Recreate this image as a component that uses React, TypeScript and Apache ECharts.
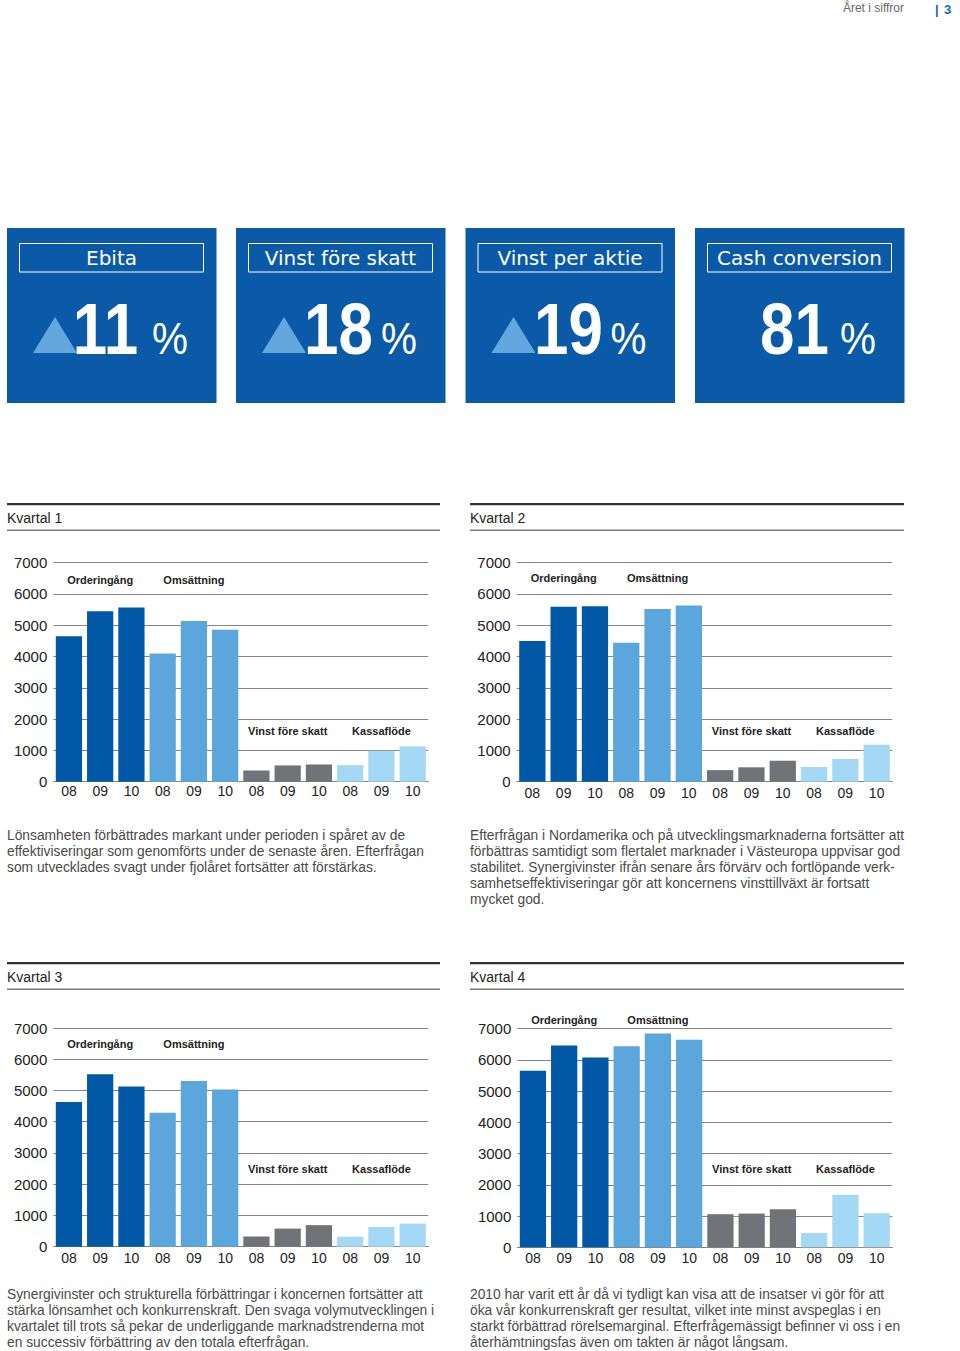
import React, { useEffect, useRef } from 'react';
import * as echarts from 'echarts';

// ---------- data ----------
const years = ['08', '09', '10'];
const groups = ['Orderingång', 'Omsättning', 'Vinst före skatt', 'Kassaflöde'];
const yMin = 0;
const yMax = 7000;
const yStep = 1000;

const kpiTitles = ['Ebita', 'Vinst före skatt', 'Vinst per aktie', 'Cash conversion'];
const kpiValues = ['11', '18', '19', '81'];
const kpiUp = [true, true, true, false];

const quarterTitles = ['Kvartal 1', 'Kvartal 2', 'Kvartal 3', 'Kvartal 4'];

const q1Order = [4650, 5450, 5570];
const q1Sales = [4100, 5140, 4860];
const q1Profit = [360, 520, 550];
const q1Cash = [530, 990, 1130];

const q2Order = [4500, 5590, 5610];
const q2Sales = [4440, 5520, 5630];
const q2Profit = [370, 460, 670];
const q2Cash = [470, 730, 1180];

const q3Order = [4630, 5520, 5130];
const q3Sales = [4290, 5300, 5030];
const q3Profit = [330, 580, 690];
const q3Cash = [320, 630, 740];

const q4Order = [5650, 6460, 6080];
const q4Sales = [6440, 6850, 6650];
const q4Profit = [1060, 1080, 1220];
const q4Cash = [460, 1680, 1090];

const p1 = [
  'Lönsamheten förbättrades markant under perioden i spåret av de',
  'effektiviseringar som genomförts under de senaste åren. Efterfrågan',
  'som utvecklades svagt under fjolåret fortsätter att förstärkas.',
];
const p2 = [
  'Efterfrågan i Nordamerika och på utvecklingsmarknaderna fortsätter att',
  'förbättras samtidigt som flertalet marknader i Västeuropa uppvisar god',
  'stabilitet. Synergivinster ifrån senare års förvärv och fortlöpande verk-',
  'samhetseffektiviseringar gör att koncernens vinsttillväxt är fortsatt',
  'mycket god.',
];
const p3 = [
  'Synergivinster och strukturella förbättringar i koncernen fortsätter att',
  'stärka lönsamhet och konkurrenskraft. Den svaga volymutvecklingen i',
  'kvartalet till trots så pekar de underliggande marknadstrenderna mot',
  'en successiv förbättring av den totala efterfrågan.',
];
const p4 = [
  '2010 har varit ett år då vi tydligt kan visa att de insatser vi gör för att',
  'öka vår konkurrenskraft ger resultat, vilket inte minst avspeglas i en',
  'starkt förbättrad rörelsemarginal. Efterfrågemässigt befinner vi oss i en',
  'återhämtningsfas även om takten är något långsam.',
];

// ---------- styling / layout ----------
const FONT = '"Liberation Sans", Arial, Helvetica, sans-serif';
const groupColors = ['#0058a7', '#5aa6dd', '#727378', '#a3d9f5'];
const boxColor = '#0b5aa8';
const triColor = '#62a8de';

const quarters = [
  { order: q1Order, sales: q1Sales, profit: q1Profit, cash: q1Cash },
  { order: q2Order, sales: q2Sales, profit: q2Profit, cash: q2Cash },
  { order: q3Order, sales: q3Sales, profit: q3Profit, cash: q3Cash },
  { order: q4Order, sales: q4Sales, profit: q4Profit, cash: q4Cash },
];

const gridBoxes = [
  { left: 53.3, top: 562.7, width: 375, height: 219, labelMargin: 2 },
  { left: 516.7, top: 562.7, width: 375.6, height: 219, labelMargin: 4 },
  { left: 53.3, top: 1028, width: 375, height: 218.7, labelMargin: 4 },
  { left: 517.3, top: 1028.7, width: 375, height: 218.6, labelMargin: 4 },
];
// pixel rows for the group name annotations (top pair, bottom pair)
const nameRows = [
  [580, 731],
  [578, 731],
  [1044, 1169],
  [1020, 1169],
];
const sections = [
  { x: 7, w: 433, top: 503 },
  { x: 470, w: 434, top: 503 },
  { x: 7, w: 433, top: 962 },
  { x: 470, w: 434, top: 962 },
];
const boxesX = [7, 236, 465.5, 695];
const digitCenter = [105.5, 338.5, 568.5, 794.5];

export default function App() {
  const ref = useRef<HTMLDivElement>(null);

  useEffect(() => {
    document.body.style.margin = '0';
    if (!ref.current) return;
    const chart = echarts.init(ref.current, null, { renderer: 'svg' });

    const categories: string[] = [];
    groups.forEach((g) => years.forEach((y) => categories.push(g + '|' + y)));

    const grid: any[] = [];
    const xAxis: any[] = [];
    const yAxis: any[] = [];
    const series: any[] = [];
    const graphic: any[] = [];

    quarters.forEach((q, qi) => {
      const gb = gridBoxes[qi];
      grid.push({ left: gb.left, top: gb.top, width: gb.width, height: gb.height, containLabel: false });
      xAxis.push({
        type: 'category',
        gridIndex: qi,
        data: categories,
        axisLine: { show: true, lineStyle: { color: '#858585', width: 1 } },
        axisTick: { show: false },
        axisLabel: {
          margin: gb.labelMargin,
          fontSize: 14,
          color: '#222',
          fontFamily: FONT,
          interval: 0,
          formatter: (v: string) => v.split('|')[1],
        },
      });
      yAxis.push({
        type: 'value',
        gridIndex: qi,
        min: yMin,
        max: yMax,
        interval: yStep,
        axisLine: { show: false },
        axisTick: { show: false },
        axisLabel: {
          margin: 6,
          fontSize: 15,
          color: '#222',
          fontFamily: FONT,
          formatter: (v: number) => String(v),
        },
        splitLine: { show: true, lineStyle: { color: '#858585', width: 1 } },
      });
      const vals = [q.order, q.sales, q.profit, q.cash];
      const data: any[] = [];
      vals.forEach((arr, gi) =>
        arr.forEach((v) => data.push({ value: v, itemStyle: { color: groupColors[gi] } }))
      );
      series.push({
        type: 'bar',
        xAxisIndex: qi,
        yAxisIndex: qi,
        data,
        barCategoryGap: '16%',
        silent: true,
      });

      // group name annotations
      const cw = gb.width / categories.length;
      groups.forEach((g, gi) => {
        graphic.push({
          type: 'text',
          x: gb.left + (gi * 3 + 1.5) * cw,
          y: nameRows[qi][gi < 2 ? 0 : 1],
          style: {
            text: g,
            font: 'bold 11px ' + FONT,
            fill: '#222',
            align: 'center',
            verticalAlign: 'middle',
          },
        });
      });

      // section header
      const s = sections[qi];
      graphic.push({ type: 'rect', shape: { x: s.x, y: s.top, width: s.w, height: 2.2 }, style: { fill: '#333' } });
      graphic.push({ type: 'rect', shape: { x: s.x, y: s.top + 26.5, width: s.w, height: 1.6 }, style: { fill: '#7a7a7a' } });
      graphic.push({
        type: 'text',
        x: s.x,
        y: s.top + 14.5,
        style: { text: quarterTitles[qi], font: '14px ' + FONT, fill: '#222', align: 'left', verticalAlign: 'middle' },
      });
    });

    // page header
    graphic.push({
      type: 'text',
      x: 904,
      y: 8,
      style: { text: 'Året i siffror', font: '12px ' + FONT, fill: '#666', align: 'right', verticalAlign: 'middle' },
    });
    graphic.push({
      type: 'text',
      x: 935,
      y: 9,
      style: { text: '|', font: 'bold 13px ' + FONT, fill: '#1b67b2', align: 'left', verticalAlign: 'middle' },
    });
    graphic.push({
      type: 'text',
      x: 944,
      y: 9,
      style: { text: '3', font: 'bold 13px ' + FONT, fill: '#1b67b2', align: 'left', verticalAlign: 'middle' },
    });

    // KPI boxes
    kpiTitles.forEach((t, i) => {
      const bx = boxesX[i];
      graphic.push({ type: 'rect', shape: { x: bx, y: 228, width: 209.5, height: 175 }, style: { fill: boxColor } });
      graphic.push({
        type: 'rect',
        shape: { x: bx + 12.5, y: 243.5, width: 184, height: 28.5 },
        style: { fill: 'none', stroke: '#fff', lineWidth: 1 },
      });
      graphic.push({
        type: 'text',
        x: bx + 104.5,
        y: 257.5,
        style: { text: t, font: '20px "DejaVu Sans", ' + FONT, fill: '#fff', align: 'center', verticalAlign: 'middle' },
      });
      if (kpiUp[i]) {
        graphic.push({
          type: 'polygon',
          shape: { points: [[bx + 26, 353], [bx + 70, 353], [bx + 48, 317]] },
          style: { fill: triColor },
        });
      }
      graphic.push({
        type: 'text',
        x: digitCenter[i],
        y: 329,
        scaleX: 0.86,
        style: { text: kpiValues[i], font: 'bold 72px ' + FONT, fill: '#fff', align: 'center', verticalAlign: 'middle' },
      });
      graphic.push({
        type: 'text',
        x: bx + 145,
        y: 339,
        scaleX: 0.92,
        style: { text: '%', font: '44px ' + FONT, fill: '#fff', align: 'left', verticalAlign: 'middle' },
      });
    });

    // paragraphs
    const paras = [
      { lines: p1, x: 7, y: 828 },
      { lines: p2, x: 470, y: 828 },
      { lines: p3, x: 7, y: 1287 },
      { lines: p4, x: 470, y: 1287 },
    ];
    paras.forEach((p) => {
      graphic.push({
        type: 'text',
        x: p.x,
        y: p.y,
        style: {
          text: p.lines.join('\n'),
          font: '13.8px ' + FONT,
          fill: '#4a4a4a',
          lineHeight: 15.8,
          align: 'left',
          verticalAlign: 'top',
        },
      });
    });

    chart.setOption({
      animation: false,
      backgroundColor: '#fff',
      grid,
      xAxis,
      yAxis,
      series,
      graphic,
    });

    return () => chart.dispose();
  }, []);

  return <div ref={ref} style={{ width: 960, height: 1351 }} />;
}
